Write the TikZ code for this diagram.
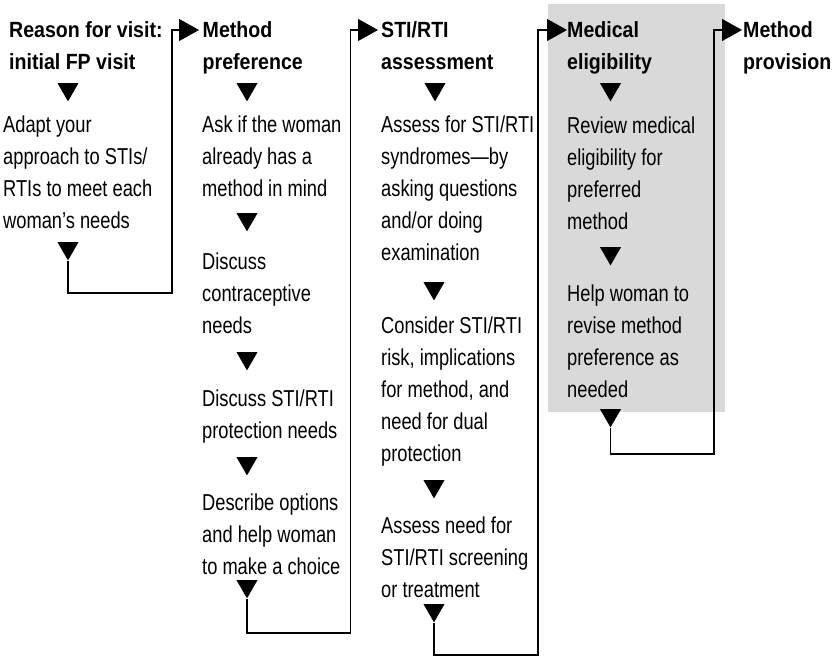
\documentclass[tikz,border=0pt]{standalone}
\usepackage{fontspec}
\setmainfont{Liberation Sans}
\newfontfamily\bodyfam[FakeStretch=0.795]{Liberation Sans}
\newfontfamily\headfam[FakeStretch=0.89]{Liberation Sans}
\newcommand\bdfont{\bodyfam\fontsize{23pt}{32pt}\selectfont}
\newcommand\hdfont{\headfam\bfseries\fontsize{22pt}{32pt}\selectfont}
\usetikzlibrary{arrows.meta,shapes.geometric}
% text nodes are placed by the baseline of their last line
\tikzset{
  head/.style={font=\hdfont, align=left, anchor=base west, inner sep=0pt},
  body/.style={font=\bdfont, align=left, anchor=base west, inner sep=0pt},
  tri/.style={regular polygon, regular polygon sides=3, shape border rotate=180,
    fill=black, inner sep=0pt, minimum size=24.2pt, anchor=north},
  conn/.style={line width=1.1pt, -{Triangle[length=20pt,width=22pt]}},
  panel/.style={fill=gray!30}
}
\begin{document}
\begin{tikzpicture}[x=1pt,y=-1pt]
\useasboundingbox (0,0) rectangle (833,656);

% shaded panel behind the medical eligibility column
\fill[panel] (548,4) rectangle (725,412);

% column 1: reason for visit
\node[head] (h1) at (9,69) {Reason for visit:\\initial FP visit};
\node[tri] (t1h) at (68,83) {};
\node[body] (b1a) at (3,228) {Adapt your\\approach to STIs/\\RTIs to meet each\\woman’s needs};
\node[tri] (t1e) at (68,242) {};

% column 2: method preference
\node[head] (h2) at (202.5,69) {Method\\preference};
\node[tri] (t2h) at (247,83) {};
\node[body] (b2a) at (202,196) {Ask if the woman\\already has a\\method in mind};
\node[tri] (t2a) at (247,213) {};
\node[body] (b2b) at (202,333) {Discuss\\contraceptive\\needs};
\node[tri] (t2b) at (247,352) {};
\node[body] (b2c) at (202,438) {Discuss STI/RTI\\protection needs};
\node[tri] (t2c) at (247,457) {};
\node[body] (b2d) at (202,574) {Describe options\\and help woman\\to make a choice};
\node[tri] (t2e) at (247,580) {};

% column 3: STI/RTI assessment
\node[head] (h3) at (381,69) {STI/RTI\\assessment};
\node[tri] (t3h) at (435,83) {};
\node[body] (b3a) at (381,260) {Assess for STI/RTI\\syndromes—by\\asking questions\\and/or doing\\examination};
\node[tri] (t3a) at (434,282) {};
\node[body] (b3b) at (381,461) {Consider STI/RTI\\risk, implications\\for method, and\\need for dual\\protection};
\node[tri] (t3b) at (434,480) {};
\node[body] (b3c) at (381,597) {Assess need for\\STI/RTI screening\\or treatment};
\node[tri] (t3e) at (434,604) {};

% column 4: medical eligibility
\node[head] (h4) at (567,69) {Medical\\eligibility};
\node[tri] (t4h) at (610.5,83) {};
\node[body] (b4a) at (567,229) {Review medical\\eligibility for\\preferred\\method};
\node[tri] (t4a) at (610.5,247) {};
\node[body] (b4b) at (567,397) {Help woman to\\revise method\\preference as\\needed};
\node[tri] (t4e) at (610.5,409) {};

% column 5: method provision
\node[head] (h5) at (743,69) {Method\\provision};

% bends and entry points of the links between columns
\coordinate (k1) at (172,293);   \coordinate (in2) at (199,30);
\coordinate (k2) at (350.5,633); \coordinate (in3) at (378,30);
\coordinate (k3) at (538,655);   \coordinate (in4) at (567,30);
\coordinate (k4) at (714,454);   \coordinate (in5) at (742,30);

\draw[conn] (t1e.south) |- (k1) |- (in2);
\draw[conn] (t2e.south) |- (k2) |- (in3);
\draw[conn] (t3e.south) |- (k3) |- (in4);
\draw[conn] (t4e.south) |- (k4) |- (in5);
\end{tikzpicture}
\end{document}
